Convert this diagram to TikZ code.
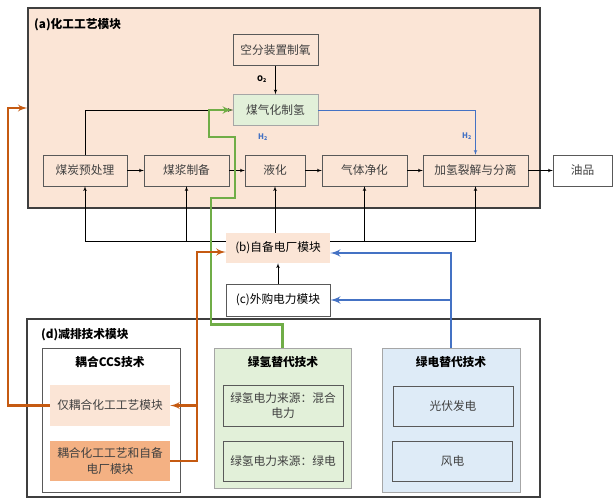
\documentclass[tikz,border=0pt]{standalone}
\usepackage{fontspec}
\setmainfont{Noto Sans CJK SC}
\usetikzlibrary{shapes,arrows,calc,positioning}
\definecolor{peach}{HTML}{FBE5D6}
\definecolor{deeppeach}{HTML}{F4B183}
\definecolor{palegreen}{HTML}{E2F0D9}
\definecolor{paleblue}{HTML}{DEEBF7}
\definecolor{framegray}{HTML}{3F3F3F}
\definecolor{boxgray}{HTML}{595959}
\definecolor{softgray}{HTML}{A6A6A6}
\definecolor{textgray}{HTML}{404040}
\definecolor{hgreen}{HTML}{70AD47}
\definecolor{hblue}{HTML}{4472C4}
\definecolor{horange}{HTML}{C55A11}
\tikzstyle{line} = [draw, -latex']
\tikzstyle{block} = [draw=boxgray, fill=peach, rectangle, text centered, text=textgray, minimum height=0.93cm, minimum width=2.55cm, inner sep=0pt, font=\fontsize{10}{12}\selectfont]
\tikzstyle{module} = [draw=framegray, line width=0.9pt, rectangle, inner sep=0pt]
\tikzstyle{group} = [draw=softgray, line width=0.6pt, rectangle, inner sep=0pt]
\tikzstyle{subblock} = [draw=boxgray, rectangle, align=center, text=textgray, minimum width=3.6cm, minimum height=1.2cm, inner sep=0pt, font=\fontsize{10}{13}\selectfont]
\tikzstyle{title} = [font=\fontsize{10}{12}\selectfont\bfseries, text=black, inner sep=0pt]
\tikzstyle{gas} = [font=\fontsize{6.5}{8}\selectfont\bfseries, inner sep=0pt]
\tikzstyle{greenline} = [draw=hgreen, line width=2pt, -latex']
\tikzstyle{blueline} = [draw=hblue, line width=2pt, -latex']
\tikzstyle{orangeline} = [draw=horange, line width=1.8pt, -latex']

\begin{document}
\begin{tikzpicture}[x=0.03cm, y=-0.03cm, >=latex']
        \useasboundingbox (0,0) rectangle (615,504);
        % module containers
        \node[module, fill=peach, minimum width=15.36cm, minimum height=6cm] (moda) at (284,108) {};
        \node[module, fill=white, minimum width=15.39cm, minimum height=5.34cm] (modd) at (283.5,408) {};
        \node[title, anchor=west] (titlea) at (34,25) {(a)化工工艺模块};
        \node[title, anchor=west] (titled) at (41,335) {(d)减排技术模块};
        % chemical process
        \node[block] (kongfen) at (275.5,50) {空分装置制氧};
        \node[block, fill=palegreen, draw=softgray] (qihua) at (275.5,110) {煤气化制氢};
        \node[block, minimum width=2.52cm] (meitan) at (85,170.5) {煤炭预处理};
        \node[block] (meijiang) at (186.5,170.5) {煤浆制备};
        \node[block, minimum width=1.8cm] (yehua) at (275,170.5) {液化};
        \node[block] (jinghua) at (364.5,170.5) {气体净化};
        \node[block, minimum width=3.15cm] (jiaqing) at (475.5,170.5) {加氢裂解与分离};
        \node[block, fill=white, minimum width=1.77cm] (youpin) at (582.5,170.5) {油品};
        \node[gas] (otwo) at (262,79) {O\textsubscript{2}};
        \node[gas, text=hblue] (htwoa) at (263,137) {H\textsubscript{2}};
        \node[gas, text=hblue] (htwob) at (467,136) {H\textsubscript{2}};
        % power modules
        \node[block, draw=none, minimum width=3.12cm, minimum height=0.9cm, text=black] (zibei) at (278,248) {(b)自备电厂模块};
        \node[block, fill=white, minimum width=3.12cm, minimum height=0.96cm, text=black] (waigou) at (278,300) {(c)外购电力模块};
        \coordinate (feedl) at ([yshift=0.21cm]zibei.west);
        \coordinate (feedr) at ([yshift=0.21cm]zibei.east);
        \coordinate (bluein) at ([yshift=-0.15cm]zibei.east);
        \coordinate (orangein) at ([yshift=-0.12cm]zibei.west);
        % reduction technologies
        \node[group, fill=white, draw=boxgray, minimum width=4.14cm, minimum height=4.32cm] (ccs) at (111,420) {};
        \node[group, fill=palegreen, minimum width=4.11cm, minimum height=4.2cm] (lvqing) at (282.5,418) {};
        \node[group, fill=paleblue, minimum width=4.14cm, minimum height=4.32cm] (lvdian) at (451,420) {};
        \node[title] (titleccs) at (110,362) {耦合CCS技术};
        \node[title] (titleqing) at (283,362) {绿氢替代技术};
        \node[title] (titledian) at (451,362) {绿电替代技术};
        \node[subblock, draw=none, fill=peach, minimum height=1.23cm] (ccsa) at (110,405.5) {仅耦合化工工艺模块};
        \node[subblock, draw=none, fill=deeppeach] (ccsb) at (110,461) {耦合化工工艺和自备\\电厂模块};
        \node[subblock, minimum height=1.23cm] (qinga) at (283,405.5) {绿氢电力来源：混合\\电力};
        \node[subblock] (qingb) at (283,461) {绿氢电力来源：绿电};
        \node[subblock] (diana) at (453,406) {光伏发电};
        \node[subblock] (dianb) at (452.5,461) {风电};
        \coordinate (orjoint) at (197,252);
        % process flow
        \path[line] (kongfen) -- (qihua);
        \path[line] (meitan) -- (meijiang);
        \path[line] (meijiang) -- (yehua);
        \path[line] (yehua) -- (jinghua);
        \path[line] (jinghua) -- (jiaqing);
        \path[line] (jiaqing) -- (youpin);
        \path[line] (meitan.north) |- (qihua.west);
        \path[line, draw=hblue] (qihua.east) -| (jiaqing.north);
        % electricity supply
        \path[line] (feedl) -| (meitan.south);
        \path[line] (meijiang.south |- feedl) -- (meijiang.south);
        \path[line] (feedr) -| (jiaqing.south);
        \path[line] (jinghua.south |- feedr) -- (jinghua.south);
        \path[line] (yehua.south |- zibei.north) -- (yehua.south);
        \path[line] (waigou) -- (zibei);
        % green hydrogen
        \draw[greenline] (lvqing.north) -- ++(0,-23) -| (211,198) -| (235,137) -| (209,110) -- (qihua.west);
        % green electricity
        \draw[blueline] (lvdian.north) |- (bluein);
        \draw[blueline] (lvdian.north |- waigou.east) -- (waigou.east);
        % CCS coupling
        \draw[orangeline] (ccsb.east) -| (orjoint) -- (orangein);
        \draw[orangeline] (orjoint |- ccsa.east) -- (ccsa.east);
        \draw[orangeline] (ccsa.west) -| (8,108) -- (moda.west);
    \end{tikzpicture}
\end{document}
